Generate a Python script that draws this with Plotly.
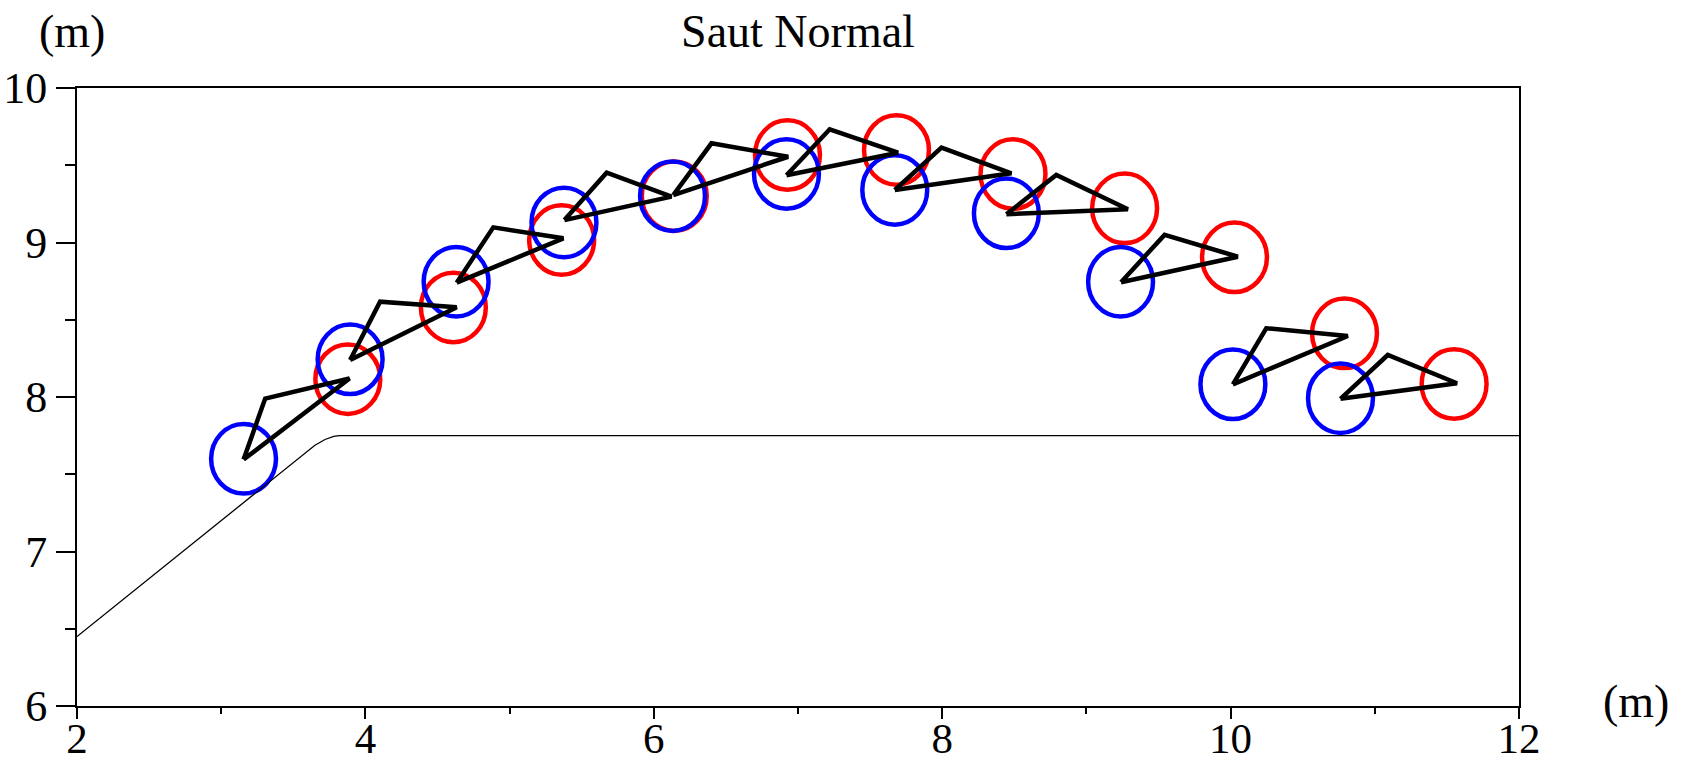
import plotly.graph_objects as go

# ---- data (metres) ----
# triangle vertices per frame: A (blue end), B (apex), C (red end)
ax_ = [3.155, 3.894, 4.633, 5.380, 6.135, 6.920, 7.671, 8.445, 9.240, 10.016, 10.762]
ay_ = [7.595, 8.240, 8.740, 9.145, 9.307, 9.435, 9.340, 9.183, 8.743, 8.082, 7.988]
bx_ = [3.305, 4.102, 4.887, 5.673, 6.400, 7.220, 7.995, 8.791, 9.542, 10.247, 11.090]
by_ = [7.990, 8.617, 9.098, 9.452, 9.642, 9.733, 9.614, 9.437, 9.049, 8.445, 8.272]
cx_ = [3.890, 4.633, 5.373, 6.123, 6.932, 7.694, 8.480, 9.288, 10.050, 10.813, 11.570]
cy_ = [8.120, 8.581, 9.027, 9.297, 9.555, 9.581, 9.448, 9.215, 8.908, 8.395, 8.089]

blue_x = [3.155, 3.894, 4.629, 5.377, 6.130, 6.920, 7.671, 8.445, 9.237, 10.016, 10.762]
blue_y = [7.600, 8.244, 8.746, 9.130, 9.300, 9.443, 9.340, 9.189, 8.746, 8.082, 7.992]
red_x = [3.878, 4.610, 5.361, 6.142, 6.927, 7.683, 8.491, 9.265, 10.027, 10.790, 11.550]
red_y = [8.115, 8.580, 9.016, 9.300, 9.566, 9.599, 9.443, 9.221, 8.904, 8.412, 8.084]
circle_r = 0.225

track_x = [2.0, 3.65, 3.72, 3.78, 3.82, 12.0]
track_y = [6.45, 7.6875, 7.725, 7.745, 7.75, 7.75]

x_ticks = [2, 4, 6, 8, 10, 12]
y_ticks = [6, 7, 8, 9, 10]

FONT = "Liberation Serif"

fig = go.Figure()

# jump track
fig.add_trace(go.Scatter(x=track_x, y=track_y, mode="lines",
                         line=dict(color="black", width=1.3),
                         hoverinfo="skip", showlegend=False))

# body triangles
tx, ty = [], []
for i in range(len(ax_)):
    tx += [ax_[i], bx_[i], cx_[i], ax_[i], None]
    ty += [ay_[i], by_[i], cy_[i], ay_[i], None]
fig.add_trace(go.Scatter(x=tx, y=ty, mode="lines",
                         line=dict(color="black", width=4.5),
                         hoverinfo="skip", showlegend=False))

shapes = []
for xc, yc in zip(red_x, red_y):
    shapes.append(dict(type="circle", xref="x", yref="y",
                       x0=xc - circle_r, x1=xc + circle_r,
                       y0=yc - circle_r, y1=yc + circle_r,
                       line=dict(color="#ff0000", width=4.5), layer="below"))
for xc, yc in zip(blue_x, blue_y):
    shapes.append(dict(type="circle", xref="x", yref="y",
                       x0=xc - circle_r, x1=xc + circle_r,
                       y0=yc - circle_r, y1=yc + circle_r,
                       line=dict(color="#0000ff", width=4.5), layer="below"))

W, H = 1681, 764
L, R, T, B = 77, 162, 88, 58

fig.update_layout(
    width=W, height=H,
    margin=dict(l=L, r=R, t=T, b=B, autoexpand=False),
    paper_bgcolor="white", plot_bgcolor="white",
    shapes=shapes,
    font=dict(family=FONT, size=44, color="black"),
    title=dict(text="Saut Normal", x=0.5, xref="paper", xanchor="center",
               y=1 - 31 / H, yanchor="middle",
               font=dict(family=FONT, size=46, color="black")),
    xaxis=dict(range=[2, 12], tickvals=x_ticks, ticktext=[str(v) for v in x_ticks],
               automargin=False, ticklabelstandoff=-18,
               showgrid=False, zeroline=False,
               showline=True, linecolor="black", linewidth=2, mirror=True,
               ticks="outside", ticklen=11, tickwidth=2, tickcolor="black",
               minor=dict(dtick=1, ticks="outside", ticklen=6, tickwidth=2,
                          tickcolor="black", showgrid=False),
               tickfont=dict(family=FONT, size=43, color="black")),
    yaxis=dict(range=[6, 10], tickvals=y_ticks, ticktext=[str(v) for v in y_ticks],
               automargin=False,
               showgrid=False, zeroline=False,
               showline=True, linecolor="black", linewidth=2, mirror=True,
               ticks="outside", ticklen=19, tickwidth=2, tickcolor="black",
               minor=dict(dtick=0.5, ticks="outside", ticklen=10, tickwidth=2,
                          tickcolor="black", showgrid=False),
               tickfont=dict(family=FONT, size=44, color="black")),
    annotations=[
        dict(text="(m)", xref="paper", yref="paper",
             x=(72 - L) / (W - L - R), y=(H - B - 32) / (H - T - B),
             xanchor="center", yanchor="middle", showarrow=False,
             font=dict(family=FONT, size=46, color="black")),
        dict(text="(m)", xref="paper", yref="paper",
             x=(1636 - L) / (W - L - R), y=(H - B - 701) / (H - T - B),
             xanchor="center", yanchor="middle", showarrow=False,
             font=dict(family=FONT, size=46, color="black")),
    ],
)

fig.write_html("out.html",
               config={"displayModeBar": False},
               post_script="document.body.style.margin='0';document.body.style.overflow='hidden';")
